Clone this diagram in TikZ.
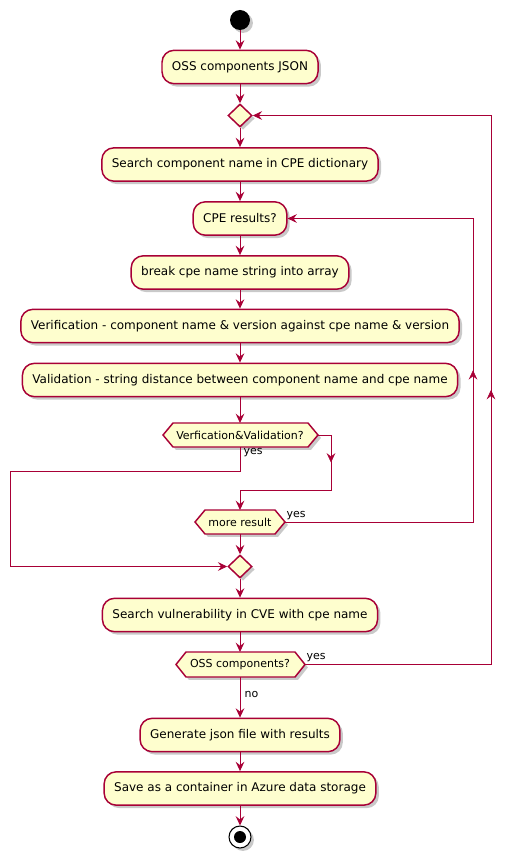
\documentclass[tikz,border=0pt]{standalone}
\usepackage{fontspec}
\setmainfont{DejaVu Sans}
\usetikzlibrary{arrows.meta,shadows,decorations.markings,shapes.geometric}
\definecolor{pfill}{HTML}{FEFECE}
\definecolor{pline}{HTML}{A80036}
\begin{document}
\begin{tikzpicture}[x=0.75pt,y=-0.75pt,
  shad/.style={drop shadow={shadow xshift=2.2pt,shadow yshift=-2.2pt,opacity=0.3,fill=black!70}},
  act/.style={draw=pline,fill=pfill,line width=1.1pt,rounded corners=9pt,minimum height=25pt,inner xsep=7.5pt,inner ysep=0pt,font=\fontsize{9}{11}\selectfont,shad},
  merge/.style={diamond,draw=pline,fill=pfill,line width=1.1pt,minimum width=18pt,minimum height=17.25pt,inner sep=0pt,shad},
  hexst/.style={draw=pline,fill=pfill,line width=1.1pt,shad},
  hextext/.style={font=\fontsize{8.25}{10}\selectfont,inner sep=0pt},
  tip/.tip={Stealth[length=7pt,width=6.5pt,inset=2.5pt]},
  conn/.style={draw=pline,line width=0.75pt,-tip},
  wire/.style={draw=pline,line width=0.75pt},
  midarrow/.style={postaction={decorate},decoration={markings,mark=at position 0.5 with {\arrow[pline]{tip}}}},
  lbl/.style={font=\fontsize{8.25}{10}\selectfont,inner sep=1pt}]
\useasboundingbox (0,0) rectangle (515,863);

% start
\node[circle,fill=black,minimum size=15pt,inner sep=0pt,shad] (start) at (240,20) {};
% activities
\node[act] (oss) at (240,67) {OSS components JSON};
\node[merge] (m1) at (240,115.5) {};
\node[act] (search) at (240,164.5) {Search component name in CPE dictionary};
\node[act] (cpe) at (240,218.5) {CPE results?};
\node[act] (brk) at (240,272.5) {break cpe name string into array};
\node[act] (ver) at (240,326) {Verification - component name \& version against cpe name \& version};
\node[act] (val) at (240,380) {Validation - string distance between component name and cpe name};

% hexagon Verfication&Validation?
\draw[hexst] (163,435) -- (173,423) -- (308,423) -- (318,435) -- (308,447) -- (173,447) -- cycle;
\node[hextext] (vv) at (240,435) {Verfication\&Validation?};
\coordinate (vvT) at (240,423);
\coordinate (vvB) at (240,447);
\coordinate (vvR) at (318,435);

% hexagon more result
\draw[hexst] (195,522) -- (205,510) -- (275,510) -- (285,522) -- (275,534) -- (205,534) -- cycle;
\node[hextext] (more) at (240,522) {more result};
\coordinate (moreT) at (240,510);
\coordinate (moreB) at (240,534);
\coordinate (moreR) at (285,522);

\node[merge] (m2) at (240,566.5) {};
\node[act] (vuln) at (240,615) {Search vulnerability in CVE with cpe name};

% hexagon OSS components?
\draw[hexst] (176,664.5) -- (186,652) -- (295,652) -- (305,664.5) -- (295,677) -- (186,677) -- cycle;
\node[hextext] (ossq) at (240,664.5) {OSS components?};
\coordinate (ossqT) at (240,652);
\coordinate (ossqB) at (240,677);
\coordinate (ossqR) at (305,664.5);

\node[act] (gen) at (240,735) {Generate json file with results};
\node[act] (save) at (240,788.5) {Save as a container in Azure data storage};

% end
\node[circle,draw=black,fill=white,line width=0.8pt,minimum size=16.5pt,inner sep=0pt,shad] (stop) at (240,837) {};
\node[circle,fill=black,minimum size=9pt,inner sep=0pt] (stopin) at (240,837) {};

% routing coordinates
\coordinate (y1a) at (240,471);
\coordinate (y1b) at (10,471);
\coordinate (y1c) at (10,566.5);
\coordinate (n1a) at (331,435);
\coordinate (n1b) at (331,490);
\coordinate (n1c) at (240,490);
\coordinate (l1a) at (473,522);
\coordinate (l1b) at (473,218.5);
\coordinate (l2a) at (491,664.5);
\coordinate (l2b) at (491,115.5);

% connectors
\draw[conn] (start) -- (oss);
\draw[conn] (oss) -- (m1);
\draw[conn] (m1) -- (search);
\draw[conn] (search) -- (cpe);
\draw[conn] (cpe) -- (brk);
\draw[conn] (brk) -- (ver);
\draw[conn] (ver) -- (val);
\draw[conn] (val) -- (vvT);
\draw[conn] (vvB) -- (y1a) -- (y1b) -- (y1c) -- (m2.west);
\draw[conn] (vvR) -- (n1a) -- (n1b) -- (n1c) -- (moreT);
\path[midarrow] (n1a) -- (n1b);
\draw[conn] (moreB) -- (m2);
\draw[conn] (moreR) -- (l1a) -- (l1b) -- (cpe.east);
\path[midarrow] (l1a) -- (l1b);
\draw[conn] (m2) -- (vuln);
\draw[conn] (vuln) -- (ossqT);
\draw[conn] (ossqB) -- (gen);
\draw[conn] (ossqR) -- (l2a) -- (l2b) -- (m1.east);
\path[midarrow] (l2a) -- (l2b);
\draw[conn] (gen) -- (save);
\draw[conn] (save) -- (stop);

% labels
\node[lbl,anchor=west] (yes1) at (242,453) {yes};
\node[lbl,anchor=west] (yes2) at (285,516) {yes};
\node[lbl,anchor=west] (yes3) at (305,658) {yes};
\node[lbl,anchor=west] (no1) at (243,694) {no};
\end{tikzpicture}
\end{document}
